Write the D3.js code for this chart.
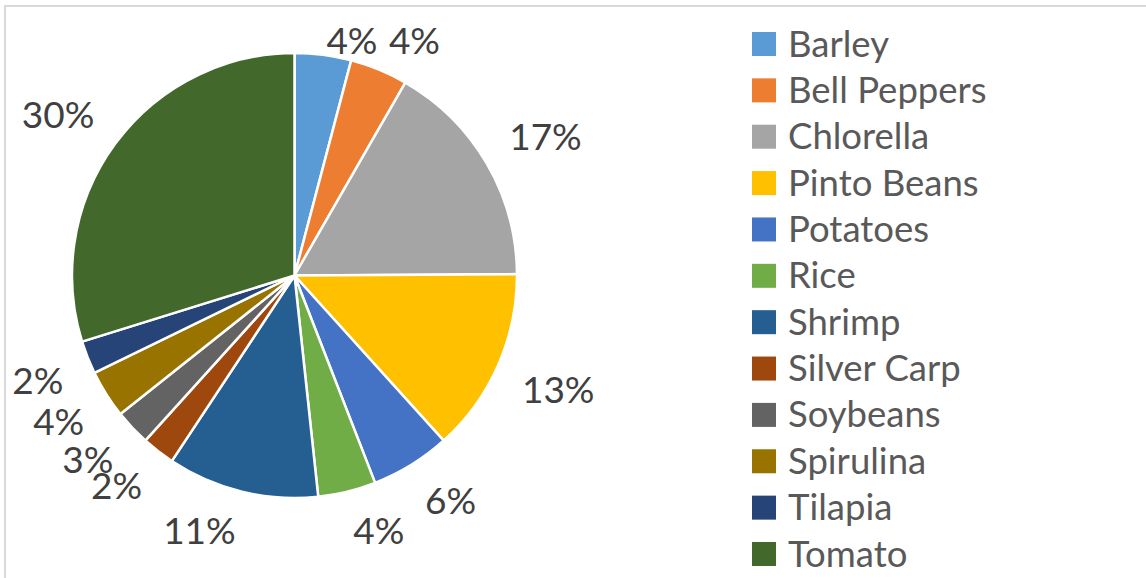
<!DOCTYPE html>
<html lang="en">
<head>
    <meta charset="UTF-8">
    <title>Crop share pie</title>
    <script src="https://d3js.org/d3.v7.min.js"></script>
    <style>
        body {
            margin: 0;
            background: #fff;
            font-family: Lato, "Open Sans", sans-serif;
        }
        .pct {
            font-size: 37px;
            fill: #404040;
        }
        .legend text {
            font-size: 36.5px;
            fill: #595959;
        }
    </style>
</head>
<body>
    <div id="chart"></div>
    <script>
    // shares (percent)
    const crops = ["Barley", "Bell Peppers", "Chlorella", "Pinto Beans", "Potatoes", "Rice",
                   "Shrimp", "Silver Carp", "Soybeans", "Spirulina", "Tilapia", "Tomato"];
    const shares = [4.1, 4.2, 16.6, 13.4, 5.8, 4.2, 11.0, 2.4, 2.6, 3.5, 2.4, 29.8];
    const colors = ["#5B9BD5", "#ED7D31", "#A5A5A5", "#FFC000", "#4472C4", "#70AD47",
                    "#255E91", "#9E480E", "#636363", "#997300", "#264478", "#43682B"];

    const W = 1146, H = 578;
    const cx = 294.5, cy = 275.5, r = 222.5;

    const svg = d3.select("#chart")
        .append("svg")
        .attr("width", W)
        .attr("height", H);

    // chart area border
    svg.append("rect")
        .attr("x", 5).attr("y", 6)
        .attr("width", W + 20).attr("height", H + 20)
        .attr("fill", "#fff")
        .attr("stroke", "#d9d9d9")
        .attr("stroke-width", 2);

    const data = crops.map((c, i) => ({name: c, value: shares[i], color: colors[i]}));
    const total = d3.sum(shares);

    const pie = d3.pie().sort(null).value(d => d.value);
    const arcs = pie(data);
    const arc = d3.arc().innerRadius(0).outerRadius(r);

    const g = svg.append("g").attr("transform", `translate(${cx},${cy})`);

    g.selectAll("path")
        .data(arcs)
        .enter()
        .append("path")
        .attr("d", arc)
        .attr("fill", d => d.data.color)
        .attr("stroke", "#fff")
        .attr("stroke-width", 2.5)
        .attr("stroke-linejoin", "round");

    // labels: nearest corner of the text box sits on the mid ray just outside the pie
    const gap = 26, capH = 27, topLimit = 27;
    const labels = svg.append("g");
    arcs.forEach(d => {
        const t = labels.append("text")
            .attr("class", "pct")
            .text(Math.round(d.value / total * 100) + "%");
        const w = t.node().getComputedTextLength();
        const a = (d.startAngle + d.endAngle) / 2;
        const ux = Math.sin(a), uy = -Math.cos(a);
        const px = cx + (r + gap) * ux, py = cy + (r + gap) * uy;
        let left = ux >= 0 ? px : px - w;
        let top = uy >= 0 ? py : py - capH;
        if (top < topLimit) {
            top = topLimit;
        }
        t.attr("x", left).attr("y", top + capH);
    });

    // legend
    const legend = svg.append("g").attr("class", "legend");
    const rowY = d3.scalePoint().domain(crops).range([44, 554]);
    const item = legend.selectAll("g")
        .data(data)
        .enter()
        .append("g")
        .attr("transform", d => `translate(752,${rowY(d.name)})`);
    item.append("rect")
        .attr("x", 0).attr("y", -12)
        .attr("width", 24).attr("height", 24)
        .attr("fill", d => d.color);
    item.append("text")
        .attr("x", 36)
        .attr("y", 12.5)
        .text(d => d.name);
    </script>
</body>
</html>
